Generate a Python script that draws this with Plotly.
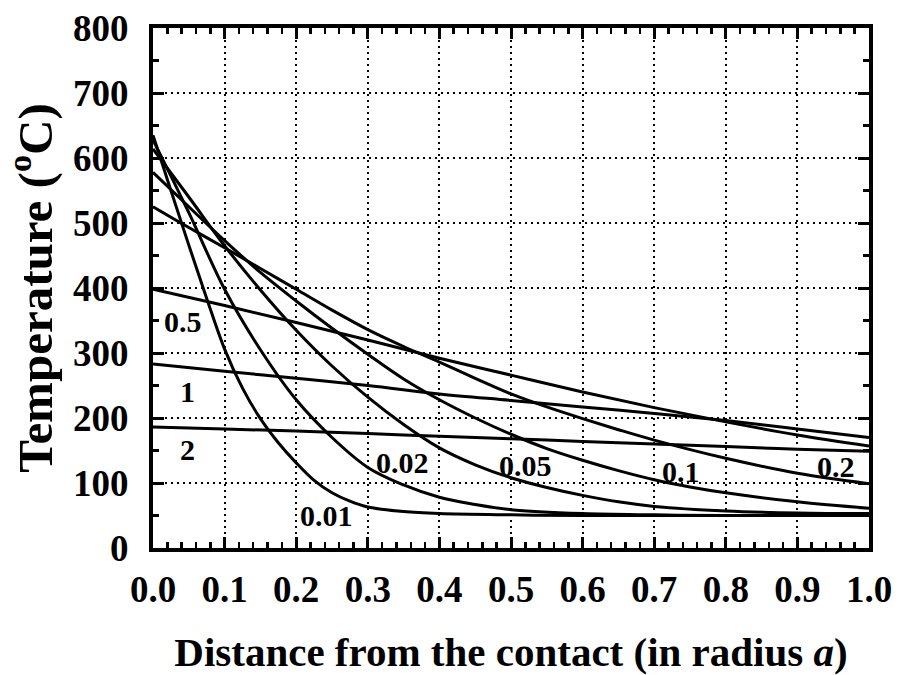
import plotly.graph_objects as go

# ---- data ----
x_001 = [0, 0.025, 0.05, 0.075, 0.10, 0.125, 0.15, 0.175, 0.20, 0.225, 0.25, 0.275, 0.30, 0.35, 0.40, 0.50, 0.60, 0.80, 1.00]
t_001 = [635, 550, 466, 384, 306, 246, 199, 162, 131, 104, 85, 72, 63, 56, 53, 51, 50, 50, 50]

x_002 = [0, 0.05, 0.10, 0.15, 0.20, 0.25, 0.30, 0.35, 0.40, 0.45, 0.50, 0.60, 0.70, 0.80, 1.00]
t_002 = [628, 516, 398, 305, 228, 170, 124, 97, 78, 67, 59, 53, 51, 50, 50]

x_005 = [0, 0.05, 0.10, 0.15, 0.20, 0.25, 0.30, 0.35, 0.40, 0.45, 0.50, 0.55, 0.60, 0.65, 0.70, 0.80, 0.90, 1.00]
t_005 = [614, 540, 465, 397, 335, 280, 232, 190, 154, 128, 108, 93, 81, 71, 64, 57, 54, 53]

x_01 = [0, 0.05, 0.10, 0.15, 0.20, 0.25, 0.30, 0.35, 0.40, 0.45, 0.50, 0.55, 0.60, 0.65, 0.70, 0.75, 0.80, 0.90, 1.00]
t_01 = [578, 525, 473, 424, 380, 338, 298, 260, 228, 200, 175, 153, 135, 119, 105, 94, 85, 71, 61]

x_02 = [0, 0.05, 0.10, 0.15, 0.20, 0.25, 0.30, 0.35, 0.40, 0.45, 0.50, 0.55, 0.60, 0.65, 0.70, 0.80, 0.90, 1.00]
t_02 = [525, 493, 462, 430, 398, 366, 336, 310, 286, 261, 237, 217, 199, 182, 166, 138, 115, 99]

x_coarse = [0, 0.1, 0.2, 0.3, 0.4, 0.5, 0.6, 0.7, 0.8, 0.9, 1.0]
t_05 = [398, 373, 347, 320, 292, 266, 240, 216, 194, 174, 157]
t_1 = [283, 272, 261, 250, 237, 227, 217, 207, 196, 183, 170]
t_2 = [186, 183, 180, 176, 172, 168, 164, 160, 156, 152, 149]

series = [
    ("0.01", x_001, t_001),
    ("0.02", x_002, t_002),
    ("0.05", x_005, t_005),
    ("0.1", x_01, t_01),
    ("0.2", x_02, t_02),
    ("0.5", x_coarse, t_05),
    ("1", x_coarse, t_1),
    ("2", x_coarse, t_2),
]

# curve labels: text, x, y (data coords)
label_text = ["0.5", "1", "2", "0.01", "0.02", "0.05", "0.1", "0.2"]
label_x = [0.042, 0.048, 0.048, 0.242, 0.348, 0.520, 0.738, 0.954]
label_y = [348, 241, 152, 50, 131, 127, 118, 125]

x_ticks = [0.0, 0.1, 0.2, 0.3, 0.4, 0.5, 0.6, 0.7, 0.8, 0.9, 1.0]
x_tick_text = ["0.0", "0.1", "0.2", "0.3", "0.4", "0.5", "0.6", "0.7", "0.8", "0.9", "1.0"]
y_ticks = [0, 100, 200, 300, 400, 500, 600, 700, 800]

FONT = "Liberation Serif, Times New Roman, serif"

fig = go.Figure()
for name, xs, ts in series:
    fig.add_trace(go.Scatter(
        x=xs, y=ts, mode="lines", name=name,
        line=dict(color="black", width=3, shape="spline", smoothing=1.0),
        showlegend=False, hoverinfo="skip",
    ))

for txt, lx, ly in zip(label_text, label_x, label_y):
    fig.add_annotation(
        x=lx, y=ly, text=txt, showarrow=False,
        font=dict(family=FONT, size=30, color="black", weight="bold"),
        xanchor="center", yanchor="middle",
    )

axis_common = dict(
    showline=True, linecolor="black", linewidth=4, mirror="ticks",
    ticks="inside", tickcolor="black", tickwidth=3, ticklen=11,
    showgrid=True, gridcolor="black", gridwidth=2, griddash="2px,4px",
    zeroline=False, automargin=False,
    tickfont=dict(family=FONT, size=37, color="black", weight="bold"),
)

fig.update_xaxes(
    range=[0, 1], tickvals=x_ticks, ticktext=x_tick_text,
    minor=dict(dtick=0.02, ticks="inside", ticklen=6, tickwidth=2.5, tickcolor="black", showgrid=False),
    title=dict(text="Distance from the contact (in radius <i>a</i>)",
               font=dict(family=FONT, size=41, color="black", weight="bold"), standoff=30),
    ticklabelstandoff=6,
    **axis_common,
)
fig.update_yaxes(
    range=[0, 800], tickvals=y_ticks,
    minor=dict(dtick=50, ticks="inside", ticklen=6, tickwidth=2.5, tickcolor="black", showgrid=False),
    title=dict(text="Temperature (<sup>o</sup>C)",
               font=dict(family=FONT, size=49, color="black", weight="bold"), standoff=24),
    ticklabelstandoff=13,
    **axis_common,
)

fig.update_layout(
    width=900, height=675,
    margin=dict(l=153, r=31, t=28, b=127, autoexpand=False),
    paper_bgcolor="white", plot_bgcolor="white",
    font=dict(family=FONT, color="black"),
)

fig.write_html(
    "out.html",
    config={"displayModeBar": False, "staticPlot": True},
    post_script="document.body.style.margin='0';document.body.style.padding='0';",
)
